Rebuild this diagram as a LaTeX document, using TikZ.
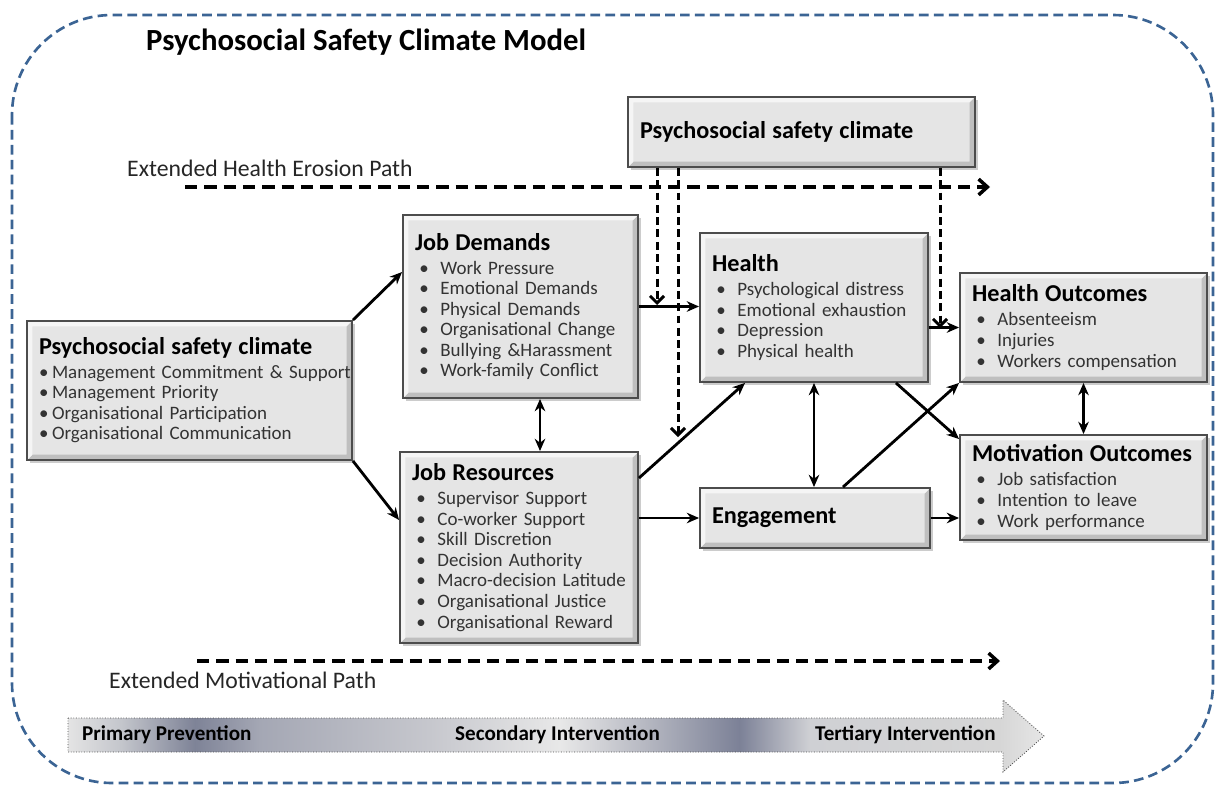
\documentclass[tikz,border=0pt]{standalone}
\usepackage{fontspec}
\setmainfont{Carlito}
\usetikzlibrary{arrows.meta,shadows}

\definecolor{framecol}{HTML}{3B6494}
\definecolor{sA}{HTML}{E4E4E4}
\definecolor{sB}{HTML}{C4C6CC}
\definecolor{sC}{HTML}{7E8397}
\definecolor{sD}{HTML}{A4A7B4}
\definecolor{sE}{HTML}{C6C7CD}
\definecolor{sF}{HTML}{E8E8E8}
\definecolor{sG}{HTML}{B9BBC4}
\definecolor{sH}{HTML}{7C8197}
\definecolor{sI}{HTML}{CFD0D4}
\definecolor{sJ}{HTML}{D6D6D6}
\definecolor{sK}{HTML}{E6E6E6}

\pgfdeclarehorizontalshading{bandshade}{100bp}{color(0bp)=(sA); color(25bp)=(sA);
  color(27.7bp)=(sB); color(31.5bp)=(sC); color(34.8bp)=(sD); color(43.5bp)=(sE);
  color(50.2bp)=(sF); color(54.3bp)=(sG); color(59.4bp)=(sH); color(63bp)=(sI);
  color(72.7bp)=(sJ); color(75bp)=(sK); color(100bp)=(sK)}

% headers and bullet lines
\newcommand{\hd}[1]{{\fontsize{13.8}{15}\selectfont\bfseries\color{black}#1}}
\newcommand{\itm}[1]{\mbox{\hspace{2.5pt}\makebox[0.42cm][l]{\textbullet}#1}}
\newcommand{\pitm}[1]{\mbox{\makebox[0.26cm][l]{\textbullet}#1}}

\tikzset{
  pbox/.style={draw=black!70, line width=1.1pt, fill=black!10, text=black!80,
    inner xsep=0.24cm, inner ysep=2pt, align=left,
    font=\fontsize{10.8}{11.7}\selectfont,
    drop shadow={shadow xshift=1.5pt, shadow yshift=-1.5pt, opacity=0.4},
    path picture={
      \fill[black!25] (path picture bounding box.south west) -- (path picture bounding box.south east)
        -- (path picture bounding box.north east) -- ([xshift=-3pt,yshift=-3pt]path picture bounding box.north east)
        -- ([xshift=-3pt,yshift=3pt]path picture bounding box.south east) -- ([xshift=3pt,yshift=3pt]path picture bounding box.south west) -- cycle;
      \fill[black!4] (path picture bounding box.south west) -- (path picture bounding box.north west)
        -- (path picture bounding box.north east) -- ([xshift=-3pt,yshift=-3pt]path picture bounding box.north east)
        -- ([xshift=3pt,yshift=-3pt]path picture bounding box.north west) -- ([xshift=3pt,yshift=3pt]path picture bounding box.south west) -- cycle;
    }},
  link/.style={line width=1.6pt, -{Stealth[length=7pt,width=6pt]}},
  both/.style={line width=1.6pt, {Stealth[length=7pt,width=6pt]}-{Stealth[length=7pt,width=6pt]}},
  pathline/.style={line width=2pt, dash pattern=on 7pt off 4pt, -{Straight Barb[length=5pt,width=9pt,line width=2pt]}},
  pscdrop/.style={line width=1.7pt, dash pattern=on 4.5pt off 2.5pt, -{Straight Barb[length=4pt,width=8pt,line width=1.7pt]}},
}

\begin{document}
\begin{tikzpicture}[x=0.02cm, y=-0.02cm]
\useasboundingbox (0,0) rectangle (1217,785);

% Outer frame and title
\draw[framecol, line width=1.5pt, dash pattern=on 5.5pt off 3pt, rounded corners=2cm] (12,15) rectangle (1213,783);
\node[anchor=west, font=\fontsize{17.5}{20}\selectfont\bfseries] (title) at (140,42) {Psychosocial Safety Climate Model};

% Top climate box
\node[pbox, minimum width=6.94cm, minimum height=1.4cm, text width=6.46cm] (pscTop) at (801.5,132) {\hd{Psychosocial safety climate}};

% Extended paths
\node[anchor=west, font=\fontsize{13.5}{16}\selectfont, text=black!85] (herTxt) at (121,168) {Extended Health Erosion Path};
\coordinate (herS) at (185,187);
\coordinate (herE) at (990,187);
\draw[pathline] (herS) -- (herE);

\node[anchor=west, font=\fontsize{13.5}{16}\selectfont, text=black!85] (motTxt) at (103,680) {Extended Motivational Path};
\coordinate (motS) at (197,661);
\coordinate (motE) at (1000,661);
\draw[pathline] (motS) -- (motE);

% Boxes
\node[pbox, minimum width=6.5cm, minimum height=2.78cm, text width=6.02cm] (psc) at (189.5,390.5) {\hd{Psychosocial safety climate}\\[1.5pt]
  \pitm{Management Commitment \& Support}\\
  \pitm{Management Priority}\\
  \pitm{Organisational Participation}\\
  \pitm{Organisational Communication}};

\node[pbox, minimum width=4.7cm, minimum height=3.66cm, text width=4.22cm] (dem) at (520.5,306.5) {\hd{Job Demands}\\[2pt]
  \itm{Work Pressure}\\
  \itm{Emotional Demands}\\
  \itm{Physical Demands}\\
  \itm{Organisational Change}\\
  \itm{Bullying \&Harassment}\\
  \itm{Work-family Conflict}};

\node[pbox, minimum width=4.76cm, minimum height=3.82cm, text width=4.28cm] (res) at (519,547.5) {\hd{Job Resources}\\[2pt]
  \itm{Supervisor Support}\\
  \itm{Co-worker Support}\\
  \itm{Skill Discretion}\\
  \itm{Decision Authority}\\
  \itm{Macro-decision Latitude}\\
  \itm{Organisational Justice}\\
  \itm{Organisational Reward}};

\node[pbox, minimum width=4.56cm, minimum height=2.98cm, text width=4.08cm] (hea) at (814,307.5) {\hd{Health}\\[2pt]
  \itm{Psychological distress}\\
  \itm{Emotional exhaustion}\\
  \itm{Depression}\\
  \itm{Physical health}};

\node[pbox, minimum width=4.6cm, minimum height=1.2cm, text width=4.12cm] (eng) at (815,518) {\hd{Engagement}};

\node[pbox, minimum width=4.94cm, minimum height=2.18cm, text width=4.46cm] (hout) at (1083.5,327.5) {\hd{Health Outcomes}\\[2pt]
  \itm{Absenteeism}\\
  \itm{Injuries}\\
  \itm{Workers compensation}};

\node[pbox, minimum width=4.94cm, minimum height=2.1cm, text width=4.46cm] (mout) at (1083.5,487.5) {\hd{Motivation Outcomes}\\[2pt]
  \itm{Job satisfaction}\\
  \itm{Intention to leave}\\
  \itm{Work performance}};

% Solid links
\coordinate (jx) at (540,0);
\draw[link] (psc.north east) -- ([yshift=0.69cm]dem.west);
\draw[link] (psc.south east) -- ([yshift=0.55cm]res.west);
\draw[both] (dem.south -| jx) -- (res.north -| jx);
\draw[link] (dem.east) -- (dem.east -| hea.west);
\draw[link] ([yshift=1.39cm]res.east) -- ([xshift=-1.38cm]hea.south);
\draw[link] (eng.west -| res.east) -- (eng.west);
\draw[both] (hea.south) -- (hea.south |- eng.north);
\draw[link] (hout.west -| hea.east) -- (hout.west);
\draw[link] ([xshift=-0.66cm]hea.south east) -- ([yshift=-0.1cm]mout.north west);
\draw[link] ([xshift=0.56cm]eng.north) -- (hout.south west);
\draw[link] (eng.east) -- (eng.east -| mout.west);
\draw[both] (hout.south) -- (mout.north);

% Dashed drops from the climate box
\coordinate (d1) at (657,305);
\coordinate (d2) at (678,437);
\coordinate (d3) at (940,328);
\draw[pscdrop] (pscTop.south -| d1) -- (d1);
\draw[pscdrop] (pscTop.south -| d2) -- (d2);
\draw[pscdrop] (pscTop.south -| d3) -- (d3);

% Prevention arrow
\shade[shading=bandshade, draw=black!70, line width=0.5pt, densely dotted]
  (68,718) -- (1003,718) -- (1003,700) -- (1044,736) -- (1003,772) -- (1003,752) -- (68,752) -- cycle;
\node[anchor=west, font=\fontsize{12}{14}\selectfont\bfseries] (prim) at (76,735) {Primary Prevention};
\node[anchor=west, font=\fontsize{12}{14}\selectfont\bfseries] (sec) at (449,735) {Secondary Intervention};
\node[anchor=west, font=\fontsize{12}{14}\selectfont\bfseries] (tert) at (809,735) {Tertiary Intervention};

\end{tikzpicture}
\end{document}
